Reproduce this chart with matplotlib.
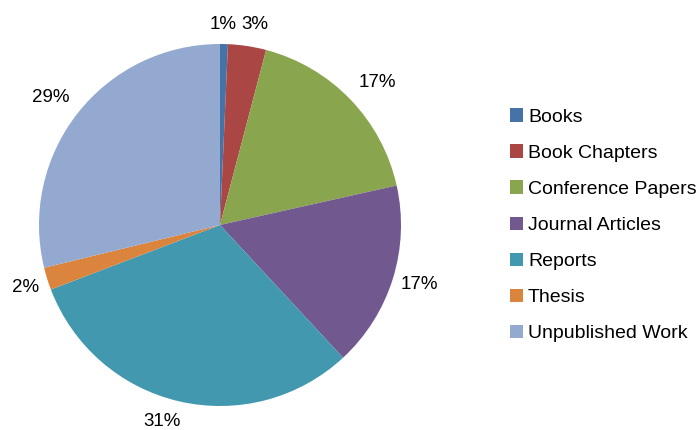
import matplotlib
matplotlib.use('Agg')
import matplotlib.pyplot as plt

# Publication types and their share (%)
categories = ['Books', 'Book Chapters', 'Conference Papers', 'Journal Articles',
              'Reports', 'Thesis', 'Unpublished Work']
shares = [0.7, 3.4, 17.4, 16.6, 31.1, 2.0, 28.8]
colors = ['#4572A7', '#AA4643', '#89A54E', '#71588F', '#4198AF', '#DB843D', '#93A9CF']

# where the percentage labels sit (pie radius = 1), like the excel layout
label_pos = [(0.019, 1.110), (0.191, 1.110), (0.867, 0.787), (1.099, -0.329),
             (-0.320, -1.083), (-1.077, -0.345), (-0.936, 0.704)]

plt.rcParams['font.family'] = ['Liberation Sans', 'DejaVu Sans']

fig = plt.figure(figsize=(6.96, 4.30), dpi=100)
ax = fig.add_axes([39 / 696, 24 / 430, 362 / 696, 362 / 430])

wedges, texts, autotexts = ax.pie(
    shares, colors=colors, startangle=90, counterclock=False,
    autopct='%.0f%%', pctdistance=1.15,
    wedgeprops={'linewidth': 0}, textprops={'fontsize': 13.5, 'color': 'black'})
for t, pos in zip(autotexts, label_pos):
    t.set_position(pos)
ax.set_xlim(-1, 1)
ax.set_ylim(-1, 1)
ax.set_aspect('equal')

fig.legend(wedges, categories, loc='center left', bbox_to_anchor=(510 / 696, 0.476),
           frameon=False, fontsize=14, borderpad=0, borderaxespad=0,
           handlelength=0.67, handleheight=0.67, handletextpad=0.25, labelspacing=0.96)

fig.savefig('out.png', dpi=100)
